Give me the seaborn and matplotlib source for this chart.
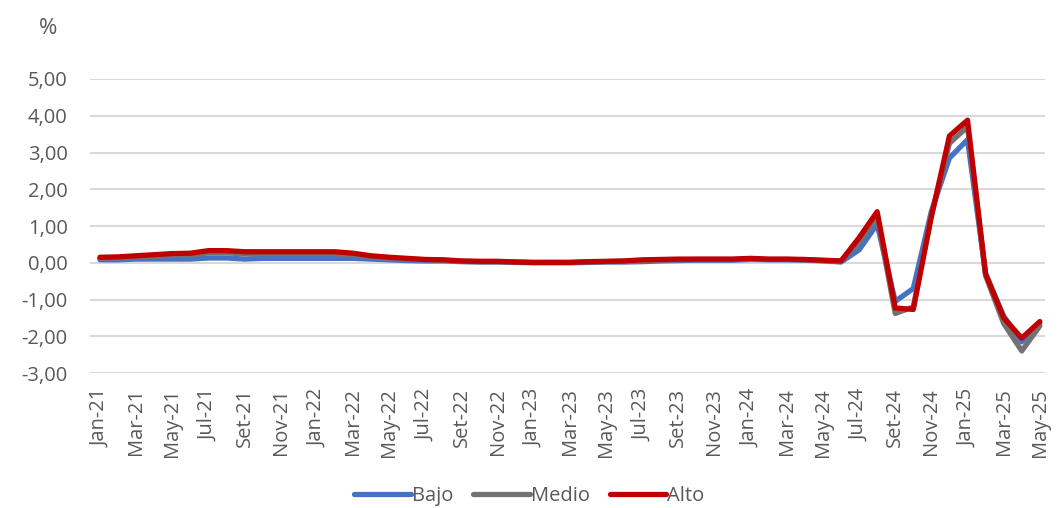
import matplotlib
matplotlib.use("Agg")
import matplotlib.pyplot as plt
import seaborn as sns
import pandas as pd
import numpy as np

months = ["Jan", "Feb", "Mar", "Apr", "May", "Jun", "Jul", "Aug", "Set", "Oct", "Nov", "Dec"]
periods = [f"{m}-{y}" for y in ["21", "22", "23", "24", "25"] for m in months][:53]

bajo = [0.08, 0.08, 0.10, 0.10, 0.10, 0.10, 0.13, 0.13, 0.10, 0.12, 0.12, 0.12,
        0.12, 0.12, 0.12, 0.10, 0.08, 0.06, 0.05, 0.05, 0.03, 0.02, 0.02, 0.01,
        0.00, 0.00, 0.00, 0.01, 0.02, 0.02, 0.03, 0.05, 0.06, 0.07, 0.07, 0.07,
        0.09, 0.08, 0.08, 0.07, 0.05, 0.02, 0.35, 1.05, -1.05, -0.70, 1.40, 2.85,
        3.35, -0.30, -1.45, -2.15, -1.65]
medio = [0.12, 0.13, 0.16, 0.18, 0.20, 0.21, 0.27, 0.27, 0.24, 0.25, 0.25, 0.25,
         0.25, 0.25, 0.22, 0.16, 0.12, 0.10, 0.08, 0.07, 0.04, 0.03, 0.03, 0.02,
         0.01, 0.01, 0.01, 0.02, 0.03, 0.04, 0.06, 0.07, 0.08, 0.09, 0.09, 0.09,
         0.11, 0.09, 0.09, 0.08, 0.06, 0.04, 0.55, 1.25, -1.38, -1.20, 1.30, 3.25,
         3.70, -0.35, -1.65, -2.40, -1.72]
alto = [0.15, 0.16, 0.19, 0.22, 0.25, 0.26, 0.33, 0.33, 0.30, 0.30, 0.30, 0.30,
        0.30, 0.30, 0.26, 0.19, 0.15, 0.12, 0.09, 0.08, 0.05, 0.04, 0.04, 0.02,
        0.01, 0.01, 0.01, 0.03, 0.04, 0.05, 0.08, 0.09, 0.10, 0.10, 0.10, 0.10,
        0.12, 0.10, 0.10, 0.09, 0.07, 0.05, 0.68, 1.39, -1.23, -1.27, 1.25, 3.45,
        3.88, -0.30, -1.50, -2.05, -1.60]

series_names = ["Bajo", "Medio", "Alto"]
colors = {"Bajo": "#4472C4", "Medio": "#767171", "Alto": "#C00000"}

df = pd.DataFrame({"idx": np.arange(len(periods)), "Bajo": bajo, "Medio": medio, "Alto": alto})
long = df.melt(id_vars="idx", value_vars=series_names, var_name="serie", value_name="valor")

sns.set_theme(style="white")
plt.rcParams["font.family"] = ["Open Sans", "DejaVu Sans"]

fig = plt.figure(figsize=(10.59, 5.08), dpi=100)
ax = fig.add_axes([0.085, 0.2657, 0.902, 0.5788])

sns.lineplot(data=long, x="idx", y="valor", hue="serie", hue_order=series_names,
             palette=colors, linewidth=3.8, ax=ax, legend=False)

ax.set_xlim(-0.55, 52.3)
ax.set_ylim(-3, 5)
ax.set_yticks(np.arange(-3, 6, 1))
ax.set_yticklabels([f"{v:.2f}".replace(".", ",") for v in np.arange(-3, 6, 1)],
                   fontsize=14.5, color="#595959")
ax.set_xticks(np.arange(0, len(periods), 2))
ax.set_xticklabels(periods[::2], rotation=90, fontsize=14.5, color="#595959")
ax.tick_params(axis="y", length=0, pad=16)
ax.tick_params(axis="x", length=0, pad=11)
ax.grid(axis="y", color="#D9D9D9", linewidth=1.5)
ax.set_axisbelow(True)
for s in ax.spines.values():
    s.set_visible(False)
ax.set_xlabel("")
ax.set_ylabel("")

fig.text(48 / 1059, 1 - 28 / 508, "%", fontsize=16, color="#595959", ha="center", va="center")

handles = [plt.Line2D([0], [0], color=colors[n], linewidth=3.8) for n in series_names]
fig.legend(handles, series_names, loc="center", bbox_to_anchor=(0.5, 1 - 496 / 508),
           ncol=3, frameon=False, fontsize=14.5, handlelength=2.8, handletextpad=0.05,
           columnspacing=1.0, labelcolor="#595959", borderaxespad=0, borderpad=0)

fig.savefig("out.png", dpi=100)
